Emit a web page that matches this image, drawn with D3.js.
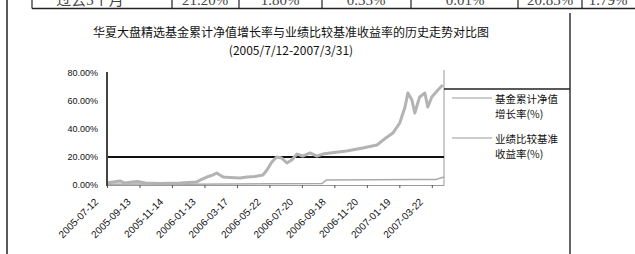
<!DOCTYPE html>
<html>
<head>
<meta charset="utf-8">
<script src="https://cdn.jsdelivr.net/npm/d3@7"></script>
<style>
  body { margin: 0; background: #fff; }
  svg { display: block; }
</style>
</head>
<body>
<script>
const width = 635;
const height = 254;

// table row cut off at the top of the page
const tableRow = ["过去3个月", "21.20%", "1.80%", "0.35%", "0.01%", "20.85%", "1.79%"];
const tableX = [90, 205, 280, 366, 465, 550, 608];
const tableDividers = [32, 172, 239, 322, 411, 518, 582];

const titleLines = [
  "华夏大盘精选基金累计净值增长率与业绩比较基准收益率的历史走势对比图",
  "(2005/7/12-2007/3/31)"
];

const yTicks = [0, 20, 40, 60, 80];
const labelIdx = [0, 8, 16, 24, 32, 40, 48, 56, 64, 72, 80];
const dateLabels = ["2005-07-12", "2005-09-13", "2005-11-14", "2006-01-13", "2006-03-17",
  "2006-05-22", "2006-07-20", "2006-09-18", "2006-11-20", "2007-01-19", "2007-03-22"];

// fund cumulative NAV growth (%)
const navIdx = [0, 1.5, 3.2, 4.4, 6.2, 7.6, 9.4, 13, 18, 22, 23, 24.6, 26, 27, 27.8, 28.6,
  30.3, 32.7, 34.5, 36.4, 38.4, 39.4, 40.6, 41.8, 43, 44.3, 45.5, 46.8, 48.2, 50, 51.7,
  53.2, 54.9, 59, 63, 66.5, 68, 70.4, 72.1, 73.4, 74.1, 75.1, 75.8, 77, 78.3, 79, 80,
  81.5, 82.7];
const navGrowth = [1.4, 2.1, 2.9, 1.4, 2.1, 2.5, 1.4, 1.1, 1.4, 2.1, 3.6, 5.7, 7.1, 8.6,
  7.1, 5.7, 5.4, 5.0, 5.7, 6.1, 7.1, 10.7, 16.4, 20.0, 19.3, 15.7, 17.9, 22.1, 20.7, 22.9,
  20.7, 22.1, 22.9, 24.3, 26.4, 28.6, 32.1, 37.1, 44.3, 55.7, 65.7, 60.7, 51.4, 62.9, 65.7,
  55.7, 62.9, 67.9, 71.4];

// benchmark return (%)
const benchIdx = [0, 10, 20, 30, 40, 53, 54, 65, 75, 81, 83];
const benchGrowth = [0.5, 0.8, 0.6, 0.7, 0.9, 1.0, 3.6, 3.8, 3.9, 4.0, 5.7];

const refLevel = [20];

const legendNames = [["基金累计净值", "增长率(%)"], ["业绩比较基准", "收益率(%)"]];

const svg = d3.select("body").append("svg")
  .attr("width", width)
  .attr("height", height)
  .style("font-family", "'Liberation Sans', 'Noto Sans CJK SC', sans-serif");

svg.append("rect").attr("width", width).attr("height", height).attr("fill", "#fff");

// page frame lines
svg.append("line").attr("x1", 7).attr("x2", 7).attr("y1", 0).attr("y2", height)
  .attr("stroke", "#222").attr("stroke-width", 1.5);
svg.append("line").attr("x1", 570).attr("x2", 570).attr("y1", 13).attr("y2", height)
  .attr("stroke", "#333").attr("stroke-width", 1.5);

// table remnant
let table = svg.append("g").attr("class", "table");
table.append("line").attr("x1", 32).attr("x2", width).attr("y1", 8.5).attr("y2", 8.5)
  .attr("stroke", "#222").attr("stroke-width", 1.5);
table.selectAll(".div").data(tableDividers).enter().append("line")
  .attr("x1", d => d).attr("x2", d => d).attr("y1", 0).attr("y2", 8.5)
  .attr("stroke", "#222").attr("stroke-width", 1.2);
table.selectAll(".cell").data(tableRow).enter().append("text")
  .attr("x", (d, i) => tableX[i]).attr("y", 5)
  .attr("text-anchor", "middle")
  .style("font-family", "'Liberation Serif', 'Noto Sans CJK SC', serif")
  .style("font-size", "15px").attr("fill", "#444")
  .text(d => d);

// title
svg.selectAll(".title").data(titleLines).enter().append("text")
  .attr("x", 291).attr("y", (d, i) => 37 + i * 18)
  .attr("text-anchor", "middle")
  .style("font-family", "'Noto Sans CJK SC', sans-serif")
  .style("font-size", "12px").attr("fill", "#111")
  .text(d => d);

const x = d3.scaleLinear().domain([0, 83]).range([107, 444]);
const y = d3.scaleLinear().domain([0, 80]).range([185, 73]);

// plot right border + legend top
svg.append("line").attr("x1", 444).attr("x2", 444).attr("y1", 70).attr("y2", 185)
  .attr("stroke", "#999").attr("stroke-width", 1);
svg.append("line").attr("x1", 444).attr("x2", 570).attr("y1", 89).attr("y2", 89)
  .attr("stroke", "#222").attr("stroke-width", 1.5);

// x axis
let xAxis = svg.append("g").attr("transform", `translate(0,${y(0)})`)
  .call(d3.axisBottom(x).tickValues(labelIdx).tickSize(3).tickSizeOuter(0)
    .tickFormat((d, i) => dateLabels[i]));
xAxis.select(".domain").attr("stroke", "#999");
xAxis.selectAll(".tick line").attr("stroke", "#555");
xAxis.selectAll(".tick text")
  .attr("text-anchor", "end")
  .attr("transform", "translate(-11,15) rotate(-45)")
  .attr("x", 0).attr("y", 0).attr("dy", "0.35em")
  .style("font-size", "10px").attr("fill", "#111");

// benchmark
const line = d3.line().x(d => x(d[0])).y(d => y(d[1]));
svg.append("path")
  .datum(benchIdx.map((d, i) => [d, benchGrowth[i]]))
  .attr("d", line).attr("fill", "none")
  .attr("stroke", "#aaa").attr("stroke-width", 1.5);

// reference line
svg.selectAll(".ref").data(refLevel).enter().append("line")
  .attr("x1", x(0)).attr("x2", x(83)).attr("y1", d => y(d)).attr("y2", d => y(d))
  .attr("stroke", "#111").attr("stroke-width", 2);

// nav growth
svg.append("path")
  .datum(navIdx.map((d, i) => [d, navGrowth[i]]))
  .attr("d", line).attr("fill", "none")
  .attr("stroke", "#b3b3b3").attr("stroke-width", 3)
  .attr("stroke-linejoin", "round");

// y axis
let yAxis = svg.append("g").attr("transform", `translate(${x(0)},0)`)
  .call(d3.axisLeft(y).tickValues(yTicks).tickSize(0).tickPadding(9)
    .tickFormat(d => d3.format(".2f")(d) + "%"));
yAxis.select(".domain").attr("stroke", "#444").attr("stroke-width", 2)
  .attr("d", `M0,${y(80) - 1}V${y(0) + 1}`);
yAxis.selectAll(".tick text").style("font-size", "9px").attr("fill", "#111");

// legend
let legend = svg.append("g").attr("class", "legend");
legendNames.forEach((names, i) => {
  const ly = 98 + i * 40;
  legend.append("line").attr("x1", 452).attr("x2", 492).attr("y1", ly).attr("y2", ly)
    .attr("stroke", "#999").attr("stroke-width", 1);
  legend.selectAll(null).data(names).enter().append("text")
    .attr("x", 495).attr("y", (d, j) => ly + 1 + j * 15)
    .attr("dy", "0.35em")
    .style("font-family", "'Noto Sans CJK SC', sans-serif")
    .style("font-size", "10.5px").attr("fill", "#111")
    .text(d => d);
});
</script>
</body>
</html>
